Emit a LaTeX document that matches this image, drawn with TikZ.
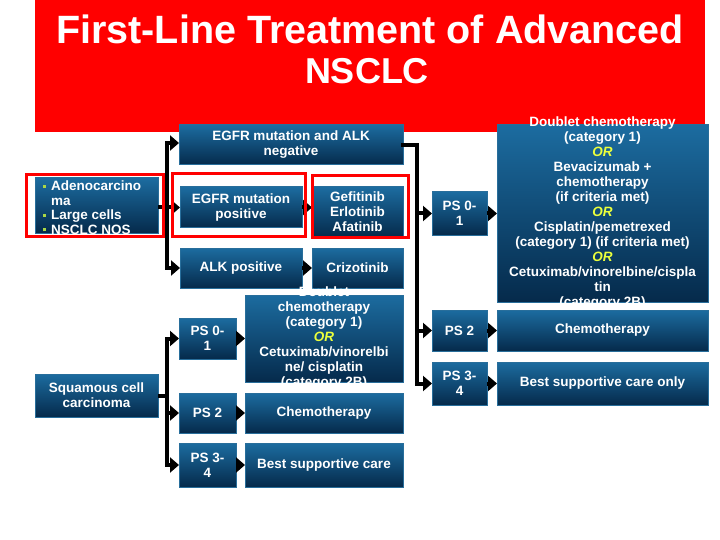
\documentclass[tikz,border=0pt]{standalone}
\usepackage{fontspec}
\setmainfont{Liberation Sans}
\usetikzlibrary{arrows.meta}
\definecolor{bxtop}{RGB}{28,108,160}
\definecolor{bxbot}{RGB}{5,42,75}
\definecolor{bxedge}{RGB}{40,110,155}
\definecolor{oryel}{RGB}{235,255,60}
\definecolor{bulgrn}{RGB}{170,215,70}
\definecolor{titlered}{RGB}{255,0,0}
\newcommand\bxfont{\fontsize{13.5}{15}\selectfont\bfseries}
\newcommand\ORtxt{\textcolor{oryel}{\itshape OR}}
\newcommand\bul{\textcolor{bulgrn}{\rule[0.2em]{3pt}{3pt}}\hspace{5pt}}
\tikzset{
  bx/.style={draw=bxedge, line width=1pt, top color=bxtop, bottom color=bxbot, inner sep=0pt, outer sep=0pt},
  tx/.style={text=white, font=\bxfont, align=center, inner sep=0pt},
  ttl/.style={text=white, font=\fontsize{39.5}{42}\selectfont\bfseries, inner sep=0pt},
  ln/.style={line width=4pt, black},
  arr/.style={ln, -{Triangle[length=9pt,width=15pt]}},
  redo/.style={draw=titlered, line width=3pt}
}
\newcommand\Bx[6]{%
  \node[bx, minimum width={(#4-#2)*1pt}, minimum height={(#5-#3)*1pt}] (#1) at ({(#2+#4)/2},{(#3+#5)/2}) {};
  \node[tx] (#1-t) at (#1.center) {#6};}
\begin{document}
\begin{tikzpicture}[x=1pt,y=-1pt]
\useasboundingbox (0,0) rectangle (720,540);
\fill[white] (0,0) rectangle (720,540);
\fill[titlered] (35,0) rectangle (705,132);
\node[ttl, anchor=base] (title1) at (370,44) {First-Line Treatment of Advanced};
\node[ttl, anchor=base, font=\fontsize{36}{40}\selectfont\bfseries] (title2) at (367,84) {NSCLC};

% left column
\node[bx, minimum width=123pt, minimum height=55pt] (adeno) at (96.5,205.5) {};
\node[tx, align=left, anchor=west, font=\fontsize{13.5}{14.5}\selectfont\bfseries] (adeno-t) at ([xshift=8pt,yshift=-2pt]adeno.west)
  {\bul Adenocarcino\\\phantom{\bul}ma\\\bul Large cells\\\bul NSCLC NOS};
\Bx{squam}{35}{374}{158}{417}{Squamous cell\\carcinoma}

% upper branch
\Bx{egfrneg}{179}{125}{403}{165}{EGFR mutation and ALK\\negative}
\Bx{egfrpos}{180}{187}{302}{228}{EGFR mutation\\positive}
\Bx{gef}{312}{187}{403}{237}{Gefitinib\\Erlotinib\\Afatinib}
\Bx{alkpos}{180}{248}{302}{288}{ALK positive}
\Bx{criz}{312}{248}{403}{288}{Crizotinib}

% squamous branch
\Bx{psLa}{179}{318}{236}{359}{PS 0-\\1}
\Bx{dblL}{245}{295}{403}{382}{Doublet\\chemotherapy\\(category 1)\\\ORtxt\\Cetuximab/vinorelbi\\ne/ cisplatin\\(category 2B)}
\Bx{psLb}{179}{393}{236}{433}{PS 2}
\Bx{chemL}{245}{393}{403}{433}{Chemotherapy}
\Bx{psLc}{179}{443}{236}{487}{PS 3-\\4}
\Bx{bscL}{245}{443}{403}{487}{Best supportive care}

% right branch
\Bx{psRa}{432}{192}{487}{235}{PS 0-\\1}
\Bx{dblR}{497}{125}{708}{302}{Doublet chemotherapy\\(category 1)\\\ORtxt\\Bevacizumab +\\chemotherapy\\(if criteria met)\\\ORtxt\\Cisplatin/pemetrexed\\(category 1) (if criteria met)\\\ORtxt\\Cetuximab/vinorelbine/cispla\\tin\\(category 2B)}
\Bx{psRb}{432}{310}{487}{351}{PS 2}
\Bx{chemR}{497}{310}{708}{351}{Chemotherapy}
\Bx{psRc}{432}{362}{487}{405}{PS 3-\\4}
\Bx{bscR}{497}{362}{708}{405}{Best supportive care only}

% connectors: non-squamous
\coordinate (lbT) at (167,143);
\coordinate (lbB) at (167,268);
\draw[ln, line cap=rect] (lbT) -- (lbB);
\draw[arr] (lbT) -- (lbT -| egfrneg.west);
\draw[arr] (adeno.east |- egfrpos.west) -- (egfrpos.west);
\draw[arr] (lbB) -- (alkpos.west);
\draw[arr] (egfrpos.east) -- (egfrpos.east -| gef.west);
\draw[arr] (alkpos.east) -- (criz.west);

% connectors: right
\coordinate (rbT) at (417,145);
\coordinate (rbB) at (417,383.5);
\draw[ln, line cap=rect, line join=miter] (egfrneg.east) -- (rbT) -- (rbB);
\draw[arr] (rbT |- psRa.west) -- (psRa.west);
\draw[arr] (rbT |- psRb.west) -- (psRb.west);
\draw[arr] (rbB) -- (rbB -| psRc.west);
\draw[arr] (psRa.east) -- (psRa.east -| dblR.west);
\draw[arr] (psRb.east) -- (chemR.west);
\draw[arr] (psRc.east) -- (bscR.west);

% connectors: squamous
\coordinate (sbT) at (167,338.5);
\coordinate (sbB) at (167,465);
\draw[ln, line cap=rect] (sbT) -- (sbB);
\draw[ln] (squam.east) -- (squam.east -| sbT);
\draw[arr] (sbT) -- (psLa.west);
\draw[arr] (sbT |- psLb.west) -- (psLb.west);
\draw[arr] (sbB) -- (psLc.west);
\draw[arr] (psLa.east) -- (psLa.east -| dblL.west);
\draw[arr] (psLb.east) -- (chemL.west);
\draw[arr] (psLc.east) -- (bscL.west);

% red highlight frames
\draw[redo] (26,175) rectangle (163,236);
\draw[redo] (172,174) rectangle (305,236);
\draw[redo] (312,176) rectangle (408,237);
\end{tikzpicture}
\end{document}
